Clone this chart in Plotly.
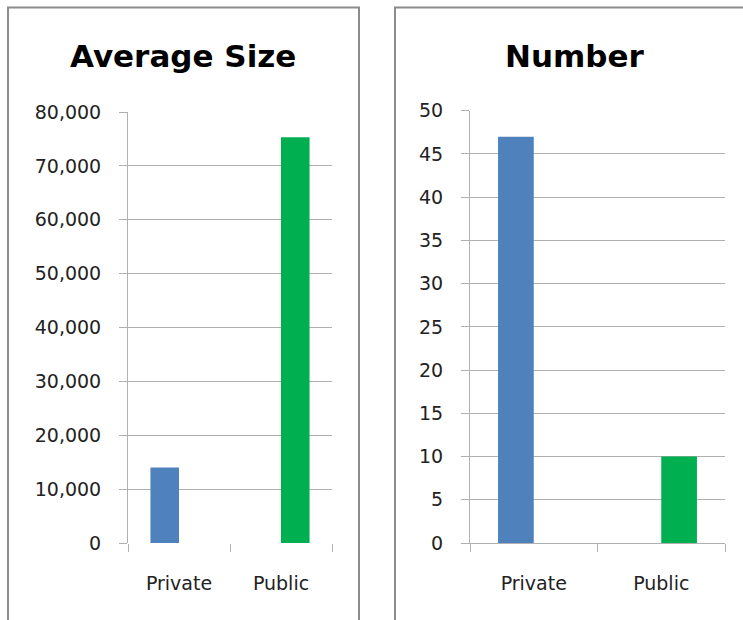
import plotly.graph_objects as go

categories = ["Private", "Public"]
avg_size = [14000, 75300]
number = [47, 10]
colors = ["#4F81BD", "#00B050"]
titles = ["Average Size", "Number"]

W, H = 743, 620
GRID = "#B0B0B0"
FONT = "DejaVu Sans"

def px(x):
    return x / W

def py(y):
    return 1 - y / H

fig = go.Figure()

for i, cat in enumerate(categories):
    yv = [avg_size[j] if j == i else None for j in range(len(categories))]
    fig.add_trace(go.Bar(x=categories, y=yv, marker=dict(color=colors[i], line=dict(width=0)),
                         xaxis="x", yaxis="y", showlegend=False, hoverinfo="skip"))
for i, cat in enumerate(categories):
    yv = [number[j] if j == i else None for j in range(len(categories))]
    fig.add_trace(go.Bar(x=categories, y=yv, marker=dict(color=colors[i], line=dict(width=0)),
                         xaxis="x2", yaxis="y2", showlegend=False, hoverinfo="skip"))

tickfont = dict(family=FONT, size=19, color="#222222")

common_x = dict(type="category", ticks="outside", tickson="boundaries", ticklen=8,
                tickcolor=GRID, tickwidth=1, showgrid=False, zeroline=False,
                tickfont=tickfont, fixedrange=True, automargin=False)
common_y = dict(ticks="outside", ticklen=8, tickcolor=GRID, tickwidth=1,
                showgrid=True, gridcolor=GRID, gridwidth=1, showline=True,
                linecolor=GRID, linewidth=1, tickfont=tickfont,
                ticklabelstandoff=14, fixedrange=True, automargin=False)

fig.update_layout(
    width=W, height=H,
    margin=dict(l=0, r=0, t=0, b=0, autoexpand=False),
    paper_bgcolor="white", plot_bgcolor="white",
    barmode="group", bargap=0.44, bargroupgap=0,
    xaxis=dict(domain=[px(128), px(332)], anchor="y", showline=False,
               ticklabelstandoff=27, **common_x),
    yaxis=dict(domain=[py(543), py(112)], anchor="x", range=[0, 80000], dtick=10000,
               tickformat=",", zeroline=True, zerolinecolor="white", zerolinewidth=2,
               **common_y),
    xaxis2=dict(domain=[px(470), px(725)], anchor="y2", showline=True, linecolor=GRID,
                linewidth=1, ticklabelstandoff=23, **common_x),
    yaxis2=dict(domain=[py(543), py(110.7)], anchor="x2", range=[0, 50], dtick=5,
                zeroline=False, **common_y),
    shapes=[
        dict(type="rect", xref="paper", yref="paper", x0=px(8), x1=px(359),
             y0=py(640), y1=py(7.5), line=dict(color="#8C8C8C", width=2),
             fillcolor="rgba(0,0,0,0)", layer="below"),
        dict(type="rect", xref="paper", yref="paper", x0=px(395), x1=px(770),
             y0=py(640), y1=py(7.5), line=dict(color="#8C8C8C", width=2),
             fillcolor="rgba(0,0,0,0)", layer="below"),
    ],
    annotations=[
        dict(text=titles[0], x=px(183), y=py(56), xref="paper", yref="paper",
             xanchor="center", yanchor="middle", showarrow=False,
             font=dict(family=FONT, size=31, color="black", weight="bold")),
        dict(text=titles[1], x=px(575), y=py(56), xref="paper", yref="paper",
             xanchor="center", yanchor="middle", showarrow=False,
             font=dict(family=FONT, size=31, color="black", weight="bold")),
    ],
)

fig.write_html("out.html")
